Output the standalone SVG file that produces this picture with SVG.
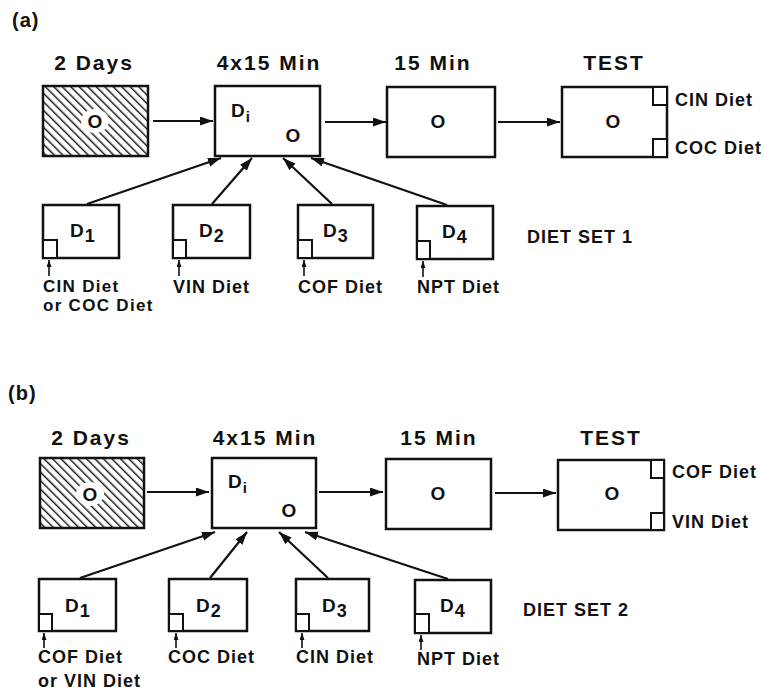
<svg xmlns="http://www.w3.org/2000/svg" width="763" height="691" viewBox="0 0 763 691">
<defs>
<style>
text{font-family:"Liberation Sans",Arial,sans-serif;font-weight:bold;fill:#111;}
.title{font-size:21px;letter-spacing:2px;text-anchor:middle;}
.lab{font-size:18px;letter-spacing:1px;}
.lab2{font-size:17px;letter-spacing:1.3px;}
.o{font-size:19px;text-anchor:middle;}
.d{font-size:19px;letter-spacing:1px;}
.panel{font-size:20px;letter-spacing:1px;}
.box{fill:#fff;stroke:#111;stroke-width:2.5;}
.hbox{fill:url(#hatch);stroke:#111;stroke-width:2.5;}
.sq{fill:#fff;stroke:#111;stroke-width:2;}
.conn line{stroke:#111;stroke-width:2.2;fill:none;}
.big{marker-end:url(#ah);}
.small{marker-end:url(#ahs);stroke-width:1.6 !important;}
</style>
<pattern id="hatch" patternUnits="userSpaceOnUse" width="6" height="6" patternTransform="rotate(-45)">
<rect width="6" height="6" fill="#fff"/>
<line x1="0" y1="0" x2="0" y2="6" stroke="#111" stroke-width="2.8"/>
</pattern>
<marker id="ah" markerUnits="userSpaceOnUse" markerWidth="14" markerHeight="10" refX="13" refY="4.5" orient="auto">
<path d="M0,0 L13,4.5 L0,9 z" fill="#111"/>
</marker>
<marker id="ahs" markerUnits="userSpaceOnUse" markerWidth="8" markerHeight="6" refX="7" refY="2.5" orient="auto">
<path d="M0,0 L7,2.5 L0,5 z" fill="#111"/>
</marker>
</defs>
<rect width="763" height="691" fill="#fff"/>

<!-- Panel (a) -->
<text class="panel" x="12" y="27">(a)</text>
<text class="title" x="94" y="70">2 Days</text>
<text class="title" x="269" y="70">4x15 Min</text>
<text class="title" x="433" y="70">15 Min</text>
<text class="title" x="614" y="70">TEST</text>

<g id="a-2days">
<rect class="hbox" x="43" y="86" width="105" height="70"/>
<ellipse cx="95" cy="121" rx="14" ry="12" fill="#fff"/>
<text class="o" x="95" y="128">O</text>
</g>
<g id="a-4x15">
<rect class="box" x="215" y="86" width="105" height="70"/>
<text class="d" x="231" y="117">D<tspan font-size="15" dy="5">i</tspan></text>
<text class="o" x="293" y="142">O</text>
</g>
<g id="a-15min">
<rect class="box" x="387" y="87" width="108" height="70"/>
<text class="o" x="438" y="128">O</text>
</g>
<g id="a-test">
<rect class="box" x="562" y="87" width="105" height="70"/>
<rect class="sq" x="653" y="87" width="14" height="18"/>
<rect class="sq" x="653" y="139" width="14" height="18"/>
<text class="o" x="613" y="128">O</text>
<text class="lab" x="675" y="106">CIN Diet</text>
<text class="lab" x="675" y="154">COC Diet</text>
</g>
<g id="a-d1">
<rect class="box" x="43" y="205" width="76" height="53"/>
<rect class="sq" x="43" y="240" width="14" height="18"/>
<text class="d" x="70" y="237">D<tspan font-size="18" dy="5">1</tspan></text>
<text class="lab2" x="43" y="292">CIN Diet</text>
<text class="lab2" x="43" y="311">or COC Diet</text>
</g>
<g id="a-d2">
<rect class="box" x="173" y="205" width="77" height="53"/>
<rect class="sq" x="173" y="240" width="13" height="18"/>
<text class="d" x="199" y="237">D<tspan font-size="18" dy="5">2</tspan></text>
<text class="lab" x="173" y="293">VIN Diet</text>
</g>
<g id="a-d3">
<rect class="box" x="298" y="205" width="75" height="53"/>
<rect class="sq" x="298" y="240" width="14" height="18"/>
<text class="d" x="323" y="237">D<tspan font-size="18" dy="5">3</tspan></text>
<text class="lab" x="298" y="293">COF Diet</text>
</g>
<g id="a-d4">
<rect class="box" x="417" y="206" width="76" height="53"/>
<rect class="sq" x="417" y="241" width="13" height="18"/>
<text class="d" x="442" y="238">D<tspan font-size="18" dy="5">4</tspan></text>
<text class="lab" x="417" y="293">NPT Diet</text>
</g>
<text class="lab" x="527" y="243">DIET SET 1</text>

<!-- Panel (b) -->
<text class="panel" x="8" y="400">(b)</text>
<text class="title" x="91" y="445">2 Days</text>
<text class="title" x="265" y="445">4x15 Min</text>
<text class="title" x="439" y="445">15 Min</text>
<text class="title" x="611" y="445">TEST</text>

<g id="b-2days">
<rect class="hbox" x="40" y="458" width="104" height="70"/>
<ellipse cx="90" cy="494" rx="14" ry="12" fill="#fff"/>
<text class="o" x="90" y="501">O</text>
</g>
<g id="b-4x15">
<rect class="box" x="212" y="458" width="104" height="70"/>
<text class="d" x="228" y="488">D<tspan font-size="15" dy="5">i</tspan></text>
<text class="o" x="289" y="517">O</text>
</g>
<g id="b-15min">
<rect class="box" x="386" y="459" width="105" height="70"/>
<text class="o" x="438" y="500">O</text>
</g>
<g id="b-test">
<rect class="box" x="558" y="460" width="106" height="70"/>
<rect class="sq" x="651" y="460" width="13" height="18"/>
<rect class="sq" x="651" y="513" width="13" height="17"/>
<text class="o" x="612" y="500">O</text>
<text class="lab" x="672" y="478">COF Diet</text>
<text class="lab" x="672" y="528">VIN Diet</text>
</g>
<g id="b-d1">
<rect class="box" x="39" y="579" width="77" height="52"/>
<rect class="sq" x="39" y="614" width="13" height="17"/>
<text class="d" x="65" y="612">D<tspan font-size="18" dy="5">1</tspan></text>
<text class="lab" x="38" y="663">COF Diet</text>
<text class="lab" x="38" y="687">or VIN Diet</text>
</g>
<g id="b-d2">
<rect class="box" x="169" y="579" width="78" height="52"/>
<rect class="sq" x="169" y="614" width="14" height="17"/>
<text class="d" x="196" y="612">D<tspan font-size="18" dy="5">2</tspan></text>
<text class="lab" x="168" y="663">COC Diet</text>
</g>
<g id="b-d3">
<rect class="box" x="296" y="579" width="73" height="52"/>
<rect class="sq" x="296" y="614" width="13" height="17"/>
<text class="d" x="322" y="612">D<tspan font-size="18" dy="5">3</tspan></text>
<text class="lab" x="296" y="663">CIN Diet</text>
</g>
<g id="b-d4">
<rect class="box" x="415" y="580" width="76" height="53"/>
<rect class="sq" x="415" y="614" width="14" height="19"/>
<text class="d" x="440" y="612">D<tspan font-size="18" dy="5">4</tspan></text>
<text class="lab" x="417" y="665">NPT Diet</text>
</g>
<text class="lab" x="523" y="616">DIET SET 2</text>

<g id="connectors" class="conn">
<!-- panel a -->
<line class="big" x1="153" y1="121" x2="213" y2="121"/>
<line class="big" x1="325" y1="122" x2="386" y2="122"/>
<line class="big" x1="498" y1="122" x2="560" y2="122"/>
<line class="big" x1="87" y1="204" x2="221" y2="158"/>
<line class="big" x1="212" y1="204" x2="252" y2="158"/>
<line class="big" x1="332" y1="204" x2="283" y2="158"/>
<line class="big" x1="447" y1="205" x2="311" y2="158"/>
<line class="small" x1="49" y1="276" x2="49" y2="260"/>
<line class="small" x1="179" y1="276" x2="179" y2="260"/>
<line class="small" x1="304" y1="276" x2="304" y2="260"/>
<line class="small" x1="423" y1="277" x2="423" y2="261"/>
<!-- panel b -->
<line class="big" x1="147" y1="492" x2="209" y2="492"/>
<line class="big" x1="319" y1="492" x2="383" y2="492"/>
<line class="big" x1="495" y1="493" x2="556" y2="493"/>
<line class="big" x1="80" y1="578" x2="215" y2="532"/>
<line class="big" x1="210" y1="578" x2="247" y2="532"/>
<line class="big" x1="328" y1="578" x2="279" y2="532"/>
<line class="big" x1="448" y1="579" x2="305" y2="532"/>
<line class="small" x1="44" y1="648" x2="44" y2="633"/>
<line class="small" x1="176" y1="648" x2="176" y2="633"/>
<line class="small" x1="302" y1="648" x2="302" y2="633"/>
<line class="small" x1="421" y1="650" x2="421" y2="635"/>
</g>
</svg>
